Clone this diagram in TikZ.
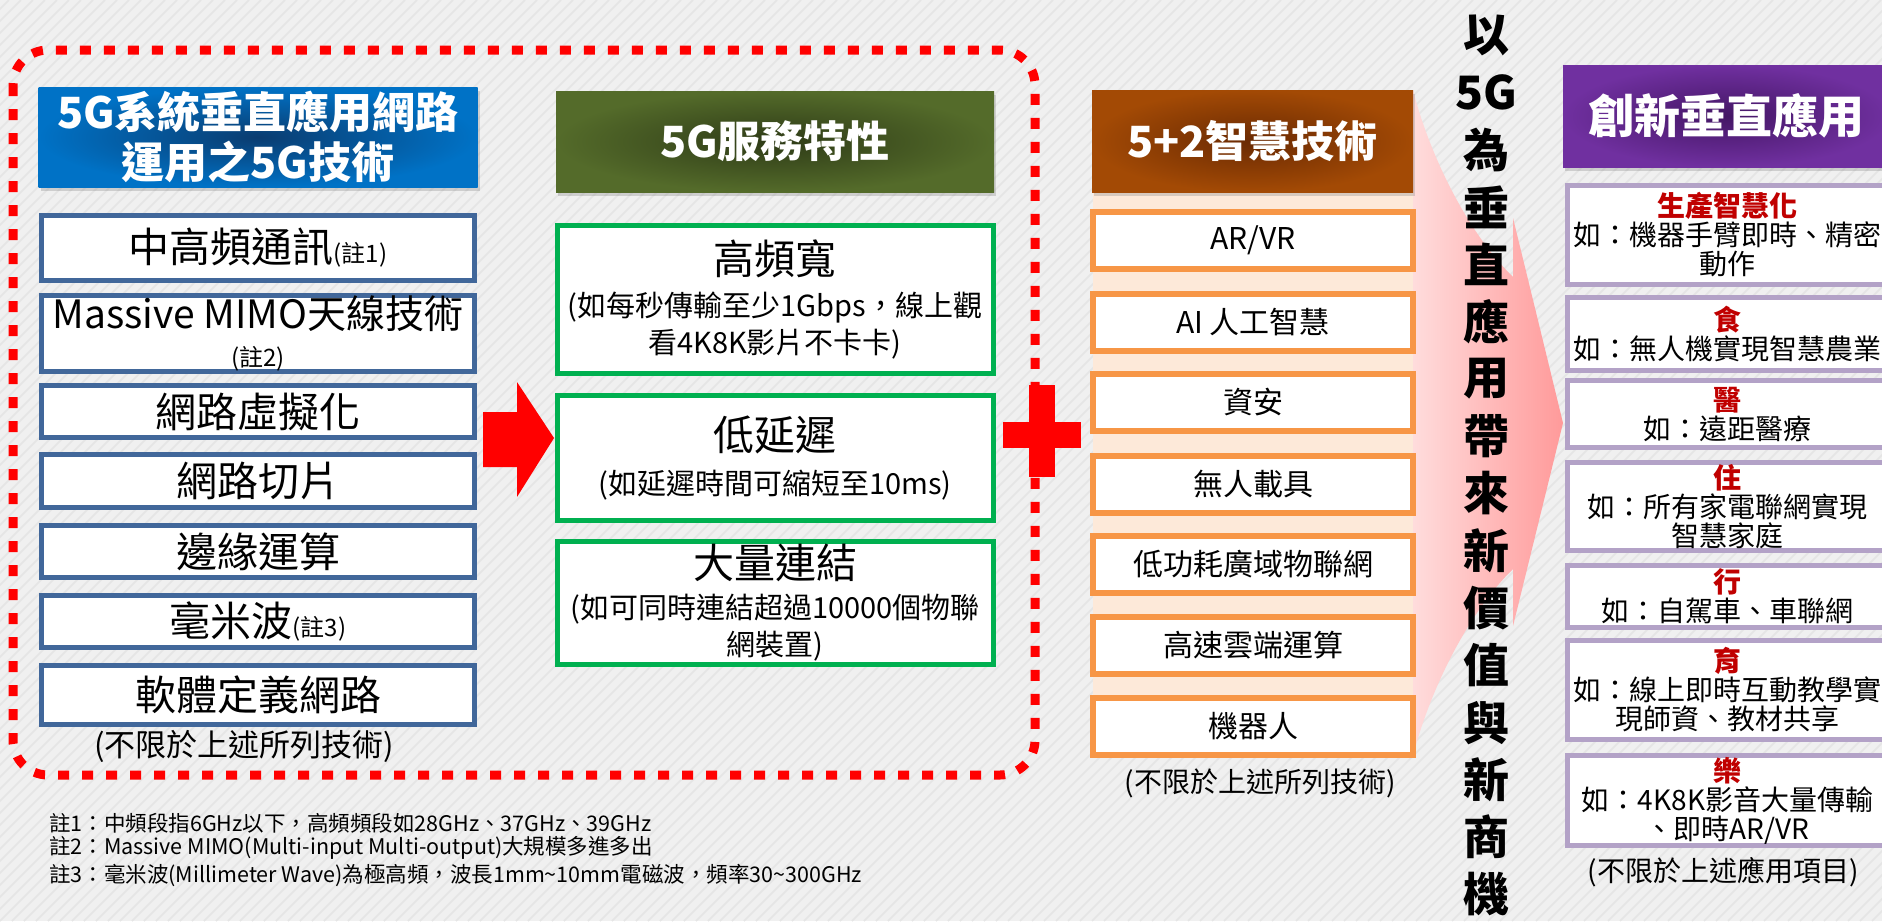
\documentclass[tikz,border=0pt]{standalone}
\usepackage{fontspec}
\setmainfont{Noto Sans CJK TC}
\usetikzlibrary{shadows}
\definecolor{bgc}{HTML}{F0F0F0}
\definecolor{stripe}{HTML}{E5E5E5}
\definecolor{techblue}{HTML}{41679A}
\definecolor{hblueo}{HTML}{0072C6}
\definecolor{hbluei}{HTML}{0A3C70}
\definecolor{holiveo}{HTML}{546B2A}
\definecolor{holivei}{HTML}{2E3B17}
\definecolor{svcgreen}{HTML}{00B050}
\definecolor{hbrowno}{HTML}{A34A05}
\definecolor{hbrowni}{HTML}{6A2A03}
\definecolor{peach}{HTML}{FDE9D9}
\definecolor{aiorange}{HTML}{F79646}
\definecolor{hpurpo}{HTML}{7030A0}
\definecolor{hpurpi}{HTML}{441665}
\definecolor{applilac}{HTML}{B3A2C7}
\definecolor{titlered}{HTML}{C00000}
\definecolor{pinkl}{HTML}{FFDCDC}
\definecolor{pinkr}{HTML}{FF9A9A}
\newcommand\fsz[2]{\fontsize{#1pt}{#2pt}\selectfont}

\begin{document}
\begin{tikzpicture}[x=1pt, y=-1pt,
  hdr/.style={inner sep=0, text=white, align=center, font=\fsz{43}{50}\bfseries,
    drop shadow={shadow xshift=2pt, shadow yshift=-4pt, opacity=0.3}},
  tech/.style={draw=techblue, line width=5pt, fill=white, minimum width=433pt, inner sep=0, align=center, font=\fsz{41}{42}},
  svc/.style={draw=svcgreen, line width=5pt, fill=white, minimum width=436pt, inner sep=0, align=center, font=\fsz{29}{37}},
  ai/.style={draw=aiorange, line width=6pt, fill=white, minimum width=320pt, minimum height=57pt, inner sep=0, font=\fsz{30}{32}},
  app/.style={draw=applilac, line width=5pt, fill=white, minimum width=320pt, inner sep=0, align=center, font=\fsz{28}{29}},
  note/.style={anchor=west, inner sep=0, font=\fsz{21.5}{22}},
  capt/.style={inner sep=0, font=\fsz{28}{29}}
]
  \useasboundingbox (0,0) rectangle (1882,921);
  \fill[bgc] (0,0) rectangle (1882,921);
  \begin{scope}
    \clip (0,0) rectangle (1882,921);
    \foreach \i in {-924,-912,...,1884} \draw[stripe, line width=1.5pt] (\i,921) -- ++(921,-921);
  \end{scope}

  \draw[red, line width=9pt, dash pattern=on 11pt off 13pt, rounded corners=35pt] (13,50) rectangle (1035,775);

  \node[hdr, inner color=hbluei, outer color=hblueo, minimum width=439pt, minimum height=100pt] (h5g) at (258,137) {5G系統垂直應用網路\\運用之5G技術};
  \node[tech, minimum height=65pt] (t1) at (258,248) {中高頻通訊{\fsz{24}{24}(註1)}};
  \node[tech, minimum height=72pt, font=\fsz{39}{38}] (t2) at (258,333.5) {Massive MIMO天線技術\\{\fsz{24}{24}(註2)}};
  \node[tech, minimum height=52pt] (t3) at (258,411.5) {網路虛擬化};
  \node[tech, minimum height=53pt] (t4) at (258,481) {網路切片};
  \node[tech, minimum height=52pt] (t5) at (258,551.5) {邊緣運算};
  \node[tech, minimum height=52pt] (t6) at (258,621.5) {毫米波{\fsz{24}{24}(註3)}};
  \node[tech, minimum height=59pt] (t7) at (258,695) {軟體定義網路};
  \node[capt, font=\fsz{31}{32}] (c1) at (244,746) {(不限於上述所列技術)};

  \fill[red] (483,412) -- (517,412) -- (517,382) -- (554,438) -- (517,497) -- (517,467) -- (483,467) -- cycle;

  \node[hdr, inner color=holivei, outer color=holiveo, minimum width=438pt, minimum height=101pt] (hsvc) at (775,141.5) {5G服務特性};
  \node[svc, minimum height=148pt] (s1) at (775,299.5) {{\fsz{41}{44}高頻寬}\\[5pt](如每秒傳輸至少1Gbps，線上觀\\看4K8K影片不卡卡)};
  \node[svc, minimum height=125pt] (s2) at (775,458) {{\fsz{41}{44}低延遲}\\[7pt](如延遲時間可縮短至10ms)};
  \node[svc, minimum height=123pt] (s3) at (775,603) {{\fsz{41}{44}大量連結}\\[3pt](如可同時連結超過10000個物聯\\網裝置)};

  \fill[red] (1003,422) rectangle (1081,448);
  \fill[red] (1029,385) rectangle (1055,477);

  \shade[left color=pinkl, right color=pinkr] (1413,90) .. controls (1428,150) and (1465,230) .. (1513,277) -- (1513,218) -- (1563,423) -- (1513,626) -- (1513,569) .. controls (1465,616) and (1428,696) .. (1413,756) -- cycle;

  \fill[peach] (1093,192) rectangle (1413,757);
  \node[hdr, inner color=hbrowni, outer color=hbrowno, minimum width=321pt, minimum height=102pt, drop shadow={opacity=0}] (hai) at (1252.5,141) {5+2智慧技術};
  \node[ai] (a1) at (1253,240.5) {AR/VR};
  \node[ai] (a2) at (1253,322) {AI 人工智慧};
  \node[ai] (a3) at (1253,402.5) {資安};
  \node[ai] (a4) at (1253,484) {無人載具};
  \node[ai] (a5) at (1253,564.5) {低功耗廣域物聯網};
  \node[ai] (a6) at (1253,645.5) {高速雲端運算};
  \node[ai] (a7) at (1253,726) {機器人};
  \node[capt] (c2) at (1260,783) {(不限於上述所列技術)};

  \foreach \c [count=\i from 0] in {以,5G,為,垂,直,應,用,帶,來,新,價,值,與,新,商,機}
    \node[inner sep=0, font=\fsz{46}{46}\bfseries] (v\i) at (1486,{35+57.3*\i}) {\c};

  \node[hdr, inner color=hpurpi, outer color=hpurpo, minimum width=327pt, minimum height=102pt, font=\fsz{46}{50}\bfseries] (happ) at (1726.5,116) {創新垂直應用};
  \node[app, minimum height=99pt] (p1) at (1727.5,235) {{\color{titlered}\bfseries 生產智慧化}\\如：機器手臂即時、精密\\動作};
  \node[app, minimum height=73pt] (p2) at (1727.5,334) {{\color{titlered}\bfseries 食}\\如：無人機實現智慧農業};
  \node[app, minimum height=67pt] (p3) at (1727.5,414) {{\color{titlered}\bfseries 醫}\\如：遠距醫療};
  \node[app, minimum height=88pt] (p4) at (1727.5,506.5) {{\color{titlered}\bfseries 住}\\如：所有家電聯網實現\\智慧家庭};
  \node[app, minimum height=62pt] (p5) at (1727.5,596.5) {{\color{titlered}\bfseries 行}\\如：自駕車、車聯網};
  \node[app, minimum height=99pt] (p6) at (1727.5,690) {{\color{titlered}\bfseries 育}\\如：線上即時互動教學實\\現師資、教材共享};
  \node[app, minimum height=90pt] (p7) at (1727.5,800.5) {{\color{titlered}\bfseries 樂}\\如：4K8K影音大量傳輸\\、即時AR/VR};
  \node[capt] (c3) at (1723,872) {(不限於上述應用項目)};

  \node[note] (n1) at (49,823) {註1：中頻段指6GHz以下，高頻頻段如28GHz、37GHz、39GHz};
  \node[note] (n2) at (49,848) {註2：Massive MIMO(Multi-input Multi-output)大規模多進多出};
  \node[note] (n3) at (49,875) {註3：毫米波(Millimeter Wave)為極高頻，波長1mm\textasciitilde10mm電磁波，頻率30\textasciitilde300GHz};
\end{tikzpicture}
\end{document}
